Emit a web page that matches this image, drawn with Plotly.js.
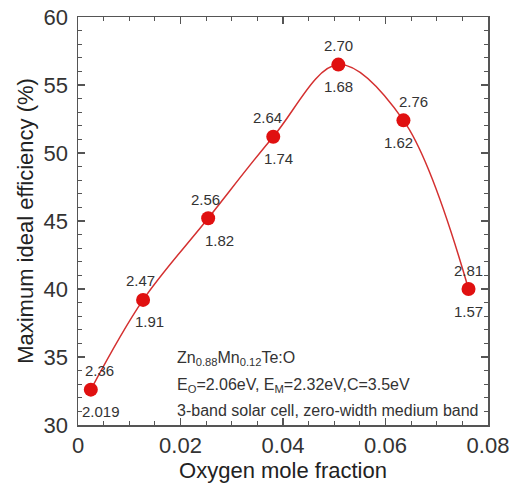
<!DOCTYPE html>
<html>
<head>
<meta charset="utf-8">
<script src="https://cdn.plot.ly/plotly-3.0.1.min.js"></script>
<style>html,body{margin:0;padding:0;background:#fff;}#chart{width:513px;height:483px;}</style>
</head>
<body>
<div id="chart"></div>
<script>
// Data
const oxygenFraction = [0.0025, 0.0127, 0.0254, 0.0381, 0.0508, 0.0635, 0.0762];
const efficiency = [32.6, 39.2, 45.2, 51.2, 56.5, 52.4, 40.0];
const upperLabels = ["2.36", "2.47", "2.56", "2.64", "2.70", "2.76", "2.81"];
const lowerLabels = ["2.019", "1.91", "1.82", "1.74", "1.68", "1.62", "1.57"];
const xTickValues = [0, 0.02, 0.04, 0.06, 0.08];
const xTickLabels = ["0", "0.02", "0.04", "0.06", "0.08"];
const infoLines = [
  "Zn<sub>0.88</sub>Mn<sub>0.12</sub>Te:O",
  "E<sub>O</sub>=2.06eV, E<sub>M</sub>=2.32eV,C=3.5eV",
  "3-band solar cell, zero-width medium band"
];

// styling offsets (pixels) for labels
const upperShiftX = [9, -3, -3, -6, 0, 10, 0];
const lowerShiftX = [10, 6, 11, 5, 0, -5, 0];
const infoY = [0.162, 0.096, 0.035];

const red = '#e01010';
const textColor = '#333333';
const font = 'Liberation Sans, Arial, sans-serif';

const traces = [
  {
    x: oxygenFraction, y: efficiency, type: 'scatter', mode: 'lines',
    line: {color: '#d43030', width: 1.5, shape: 'spline', smoothing: 1},
    hoverinfo: 'skip', showlegend: false
  },
  {
    x: oxygenFraction, y: efficiency, type: 'scatter', mode: 'markers',
    marker: {color: red, size: 14},
    showlegend: false
  }
];

const annotations = [];
oxygenFraction.forEach((xv, i) => {
  annotations.push({x: xv, y: efficiency[i], xref: 'x', yref: 'y', text: upperLabels[i],
    showarrow: false, yshift: 19, xshift: upperShiftX[i], font: {family: font, size: 15, color: textColor}});
  annotations.push({x: xv, y: efficiency[i], xref: 'x', yref: 'y', text: lowerLabels[i],
    showarrow: false, yshift: -22, xshift: lowerShiftX[i], font: {family: font, size: 15, color: textColor}});
});
infoLines.forEach((t, i) => {
  annotations.push({x: 0.236, y: infoY[i], xref: 'paper', yref: 'paper', xanchor: 'left', yanchor: 'middle',
    text: t, showarrow: false, font: {family: font, size: 16, color: textColor}});
});

const axisCommon = {
  showline: true, linecolor: '#555', linewidth: 1.5, mirror: 'allticks',
  ticks: 'inside', ticklen: 7, tickwidth: 1.2, tickcolor: '#555',
  showgrid: false, zeroline: false,
  tickfont: {family: font, size: 22, color: textColor}
};

const layout = {
  width: 513, height: 483,
  margin: {l: 78, r: 25, t: 17, b: 58},
  paper_bgcolor: '#ffffff', plot_bgcolor: '#ffffff',
  xaxis: Object.assign({}, axisCommon, {
    range: [0, 0.08], tickmode: 'array', tickvals: xTickValues, ticktext: xTickLabels,
    minor: {dtick: 0.005, tick0: 0, ticks: 'inside', ticklen: 4, tickcolor: '#555', showgrid: false},
    title: {text: 'Oxygen mole fraction', font: {family: font, size: 22, color: '#222'}, standoff: 6}
  }),
  yaxis: Object.assign({}, axisCommon, {
    range: [30, 60], tick0: 30, dtick: 5, ticklabelstandoff: 4,
    minor: {dtick: 1, ticks: 'inside', ticklen: 4, tickcolor: '#555', showgrid: false},
    title: {text: 'Maximum ideal efficiency (%)', font: {family: font, size: 22, color: '#222'}, standoff: 4}
  }),
  annotations: annotations
};

Plotly.newPlot('chart', traces, layout, {displayModeBar: false, staticPlot: true});
</script>
</body>
</html>
